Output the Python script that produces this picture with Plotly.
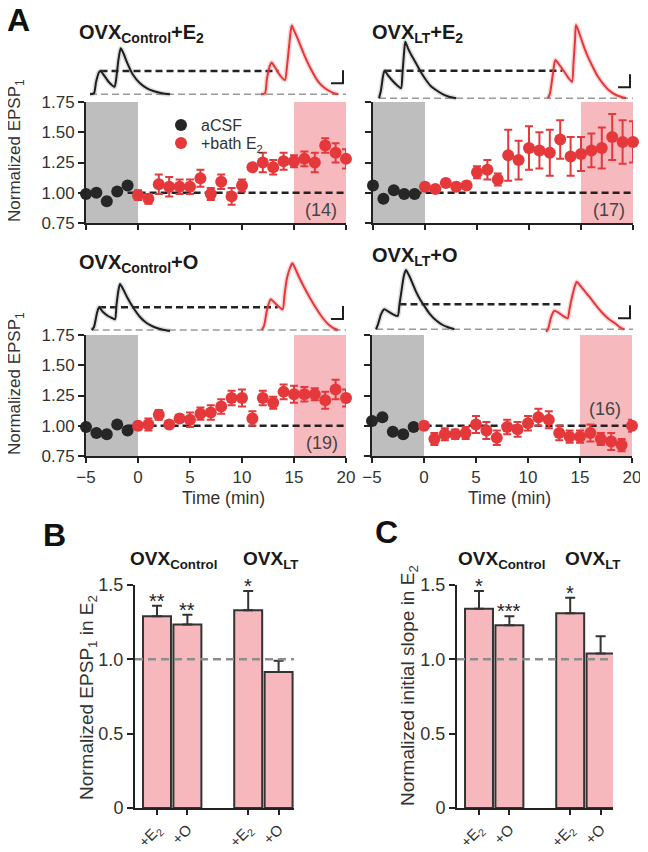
import plotly.graph_objects as go

# The page body keeps an 8px margin, so the figure is 16px smaller than the window
# and all positions below are given in window pixels, then shifted by that margin.
WIN_W, WIN_H = 648, 852
PAD = 8
W, H = WIN_W - 2 * PAD, WIN_H - 2 * PAD
FONT = "Liberation Sans, Arial, Helvetica, sans-serif"
TXT = "#333333"
AX = "#222222"
RED = "#e5383b"
BLACK = "#262626"
GRAY_BAND = "#bebebe"
PINK_BAND = "#f6b9be"
BAR_FILL = "#f7b8bd"

# ---------------- data: time courses (normalized EPSP1) ----------------
TIME_BASE = [-5, -4, -3, -2, -1]
TIME_E2 = [0, 1, 2, 3, 4, 5, 6, 7, 8, 9, 10, 11, 12, 13, 14, 15, 16, 17, 18, 19, 20]

ctrl_e2_base = [0.99, 1.00, 0.93, 1.01, 1.06]
ctrl_e2_base_err = [0.02, 0.02, 0.03, 0.03, 0.03]
ctrl_e2 = [0.98, 0.95, 1.07, 1.05, 1.05, 1.05, 1.12, 0.99, 1.09, 0.97, 1.06,
           1.21, 1.25, 1.21, 1.26, 1.26, 1.28, 1.25, 1.39, 1.33, 1.28]
ctrl_e2_err = [0.04, 0.04, 0.08, 0.08, 0.06, 0.06, 0.07, 0.05, 0.06, 0.07, 0.05,
               0.02, 0.08, 0.06, 0.07, 0.05, 0.06, 0.08, 0.06, 0.08, 0.08]

lt_e2_base = [1.06, 0.95, 1.02, 0.99, 0.99]
lt_e2_base_err = [0.03, 0.03, 0.02, 0.03, 0.03]
lt_e2 = [1.05, 1.03, 1.08, 1.05, 1.06, 1.17, 1.19, 1.11, 1.31, 1.27, 1.37,
         1.35, 1.33, 1.44, 1.30, 1.32, 1.35, 1.37, 1.46, 1.42, 1.42]
lt_e2_err = [0.03, 0.03, 0.03, 0.03, 0.03, 0.05, 0.08, 0.05, 0.21, 0.16, 0.18,
             0.15, 0.19, 0.16, 0.16, 0.14, 0.14, 0.17, 0.19, 0.18, 0.17]

ctrl_o_base = [0.99, 0.94, 0.93, 1.01, 0.96]
ctrl_o_base_err = [0.03, 0.02, 0.03, 0.02, 0.03]
ctrl_o = [1.00, 1.01, 1.09, 1.01, 1.06, 1.05, 1.10, 1.11, 1.16, 1.23, 1.23,
          1.06, 1.23, 1.19, 1.28, 1.26, 1.26, 1.26, 1.21, 1.30, 1.23]
ctrl_o_err = [0.03, 0.05, 0.04, 0.03, 0.03, 0.06, 0.05, 0.06, 0.06, 0.06, 0.07,
              0.06, 0.06, 0.05, 0.06, 0.07, 0.06, 0.05, 0.07, 0.08, 0.07]

lt_o_base = [1.04, 1.07, 0.95, 0.93, 0.99]
lt_o_base_err = [0.03, 0.03, 0.03, 0.03, 0.02]
lt_o = [1.00, 0.89, 0.93, 0.93, 0.94, 1.01, 0.96, 0.90, 0.99, 0.97, 1.02,
        1.07, 1.05, 0.94, 0.91, 0.91, 0.94, 0.89, 0.87, 0.84, 1.00]
lt_o_err = [0.03, 0.05, 0.05, 0.04, 0.05, 0.07, 0.07, 0.06, 0.06, 0.06, 0.06,
            0.07, 0.07, 0.06, 0.05, 0.05, 0.07, 0.05, 0.07, 0.05, 0.05]

N_CELLS = ["(14)", "(17)", "(19)", "(16)"]

# ---------------- data: example EPSP traces (ms, arbitrary units) ----------------
ctrl_e2_black_t = [4, 8, 10, 13, 14.5, 18, 23, 28.5, 30, 32.5, 34.7, 37, 41, 47, 54, 61, 68, 76, 84]
ctrl_e2_black_v = [0, 1, 12, 22, 23.3, 19, 12, 7.5, 14, 35, 46, 42, 32, 19.5, 11, 6, 3, 1, 0]
ctrl_e2_red_t = [175, 179, 181, 184, 185.5, 189, 194, 199, 201, 203.5, 205.7, 208, 212, 218, 225, 232, 239, 247, 252]
ctrl_e2_red_v = [0, 1, 16, 29, 31.7, 27, 19, 14.3, 28, 52, 68.7, 64, 55, 40, 25, 13, 6, 1.5, 0]

lt_e2_black_t = [6, 8, 10, 11.5, 15, 20, 24, 28, 29.5, 31, 32.3, 35, 39, 43, 48, 53, 58, 63, 70, 76, 83]
lt_e2_black_v = [0, 8, 22, 27.6, 23, 17, 13, 10, 25, 45, 56.6, 50, 42, 35, 26, 18.3, 12, 8.3, 4, 1.6, 0]
lt_e2_red_t = [175, 177, 180, 182.3, 186, 191, 195, 199, 200.5, 202, 203, 206, 209.7, 214.7, 219.7, 224.7, 229.7, 236, 243, 253]
lt_e2_red_v = [0, 5, 25, 38.3, 34, 27, 21, 16.6, 35, 58, 73.3, 66, 55, 42, 31.6, 22, 15, 8, 3.3, 0]

ctrl_o_black_t = [5.7, 8, 11, 13, 17, 22, 26, 29, 30.5, 32.5, 34, 37, 41, 47, 54, 61, 68, 76, 84]
ctrl_o_black_v = [0, 3, 17, 22.7, 18, 14, 12, 10.7, 25, 40, 46, 41, 33, 22.7, 13, 6.7, 3, 0.5, -1]
ctrl_o_red_t = [175.7, 178, 181, 184.7, 188, 192, 196.7, 198.5, 201, 204, 206.3, 209, 213, 218, 224, 230, 236, 242, 248, 252]
ctrl_o_red_v = [0, 4, 20, 30.7, 28, 24, 20.7, 35, 52, 62, 66.7, 62, 53, 43, 32, 22, 13, 6, 1.5, 0]

lt_o_black_t = [3, 5, 8, 11.3, 15, 20, 24.7, 26.5, 29, 31, 33, 36, 39.5, 43, 47, 51.5, 56.3, 63, 69.7, 75, 81.3]
lt_o_black_v = [0, 5, 15, 20, 18, 15, 13.3, 25, 42, 54, 59.3, 54, 46, 37.6, 30, 23, 16, 9, 4.3, 2, 0]
lt_o_red_t = [173, 175, 178, 181.3, 185, 190, 194.7, 196.5, 199, 201.5, 203.7, 207, 211.5, 216.3, 223, 229.7, 236, 243, 247, 251.3]
lt_o_red_v = [-2.4, 0, 12, 18.6, 17, 13.5, 11, 20, 32, 42, 47.6, 44, 38.5, 32.6, 24, 16, 10, 5.3, 2, 0]

SCALE_T = 12   # scale bar, ms
SCALE_V = 13   # scale bar, trace units

# ---------------- data: bar charts ----------------
BAR_POS = [0, 1, 3, 4]
BAR_LABELS = ["+E<sub>2</sub>", "+O", "+E<sub>2</sub>", "+O"]
epsp_mean = [1.29, 1.235, 1.33, 0.915]
epsp_sem = [0.07, 0.065, 0.13, 0.075]
epsp_stars = ["**", "**", "*", ""]
slope_mean = [1.34, 1.23, 1.31, 1.04]
slope_sem = [0.12, 0.06, 0.105, 0.115]
slope_stars = ["*", "***", "*", ""]


# ---------------- layout helpers ----------------
def fx(p):
    return (p - PAD) / W


def fy(p):
    return 1 - (p - PAD) / H


fig = go.Figure()
shapes = []
annotations = []
layout_axes = {}


def axname(i, kind):
    return kind if i == 1 else f"{kind}{i}"


def axkey(i, kind):
    return f"{kind}axis" if i == 1 else f"{kind}axis{i}"


def note(text, x, y, size, color=TXT, angle=0, xanchor="center", yanchor="middle", **kw):
    d = dict(text=text, xref="paper", yref="paper", x=fx(x), y=fy(y), showarrow=False,
             xanchor=xanchor, yanchor=yanchor, textangle=angle,
             font=dict(family=FONT, size=size, color=color))
    d.update(kw)
    annotations.append(d)


panels = [
    dict(i=1, xd=(86, 346), yd=(102, 223), xlab=False, ylab=True,
         base=ctrl_e2_base, base_err=ctrl_e2_base_err, y=ctrl_e2, err=ctrl_e2_err,
         title="<b>OVX<sub>Control</sub>+E<sub>2</sub></b>", title_pos=(77, 34),
         n=N_CELLS[0], n_pos=(17.6, 0.86), inset=8, ins_left=86, ins_base=94.3,
         bt=ctrl_e2_black_t, bv=ctrl_e2_black_v, rt=ctrl_e2_red_t, rv=ctrl_e2_red_v),
    dict(i=2, xd=(373, 633), yd=(102, 223), xlab=False, ylab=False,
         base=lt_e2_base, base_err=lt_e2_base_err, y=lt_e2, err=lt_e2_err,
         title="<b>OVX<sub>LT</sub>+E<sub>2</sub></b>", title_pos=(370, 34),
         n=N_CELLS[1], n_pos=(17.7, 0.86), inset=9, ins_left=373, ins_base=98.3,
         bt=lt_e2_black_t, bv=lt_e2_black_v, rt=lt_e2_red_t, rv=lt_e2_red_v),
    dict(i=3, xd=(86, 346), yd=(335, 456), xlab=True, ylab=True,
         base=ctrl_o_base, base_err=ctrl_o_base_err, y=ctrl_o, err=ctrl_o_err,
         title="<b>OVX<sub>Control</sub>+O</b>", title_pos=(77, 263),
         n=N_CELLS[2], n_pos=(17.7, 0.857), inset=10, ins_left=86, ins_base=330,
         bt=ctrl_o_black_t, bv=ctrl_o_black_v, rt=ctrl_o_red_t, rv=ctrl_o_red_v),
    dict(i=4, xd=(372, 632), yd=(335, 456), xlab=True, ylab=False,
         base=lt_o_base, base_err=lt_o_base_err, y=lt_o, err=lt_o_err,
         title="<b>OVX<sub>LT</sub>+O</b>", title_pos=(370, 256),
         n=N_CELLS[3], n_pos=(17.4, 1.14), inset=11, ins_left=373, ins_base=329.3,
         bt=lt_o_black_t, bv=lt_o_black_v, rt=lt_o_red_t, rv=lt_o_red_v),
]

tick_font = dict(family=FONT, size=17, color=TXT)

for p in panels:
    i = p["i"]
    xa = axname(i, "x")
    ya = axname(i, "y")
    layout_axes[axkey(i, "x")] = dict(
        domain=[fx(p["xd"][0]), fx(p["xd"][1])], range=[-5, 20], anchor=ya,
        tickvals=[-5, 0, 5, 10, 15, 20], ticks="outside", ticklen=5, tickwidth=2,
        tickcolor=AX, showline=True, linewidth=2, linecolor=AX, showgrid=False,
        zeroline=False, showticklabels=p["xlab"], tickfont=tick_font, automargin=False,
        ticklabeloverflow="allow")
    layout_axes[axkey(i, "y")] = dict(
        domain=[fy(p["yd"][1]), fy(p["yd"][0])], range=[0.75, 1.75], anchor=xa,
        tickvals=[0.75, 1.0, 1.25, 1.5, 1.75],
        ticktext=["0.75", "1.00", "1.25", "1.50", "1.75"],
        ticks="outside", ticklen=6, tickwidth=2, tickcolor=AX, showline=True,
        linewidth=2, linecolor=AX, showgrid=False, zeroline=False,
        showticklabels=p["ylab"], tickfont=tick_font, automargin=False)

    # shaded epochs
    shapes.append(dict(type="rect", xref=xa, yref=f"{ya} domain", x0=-5, x1=0, y0=0, y1=1,
                       fillcolor=GRAY_BAND, line_width=0, layer="below"))
    shapes.append(dict(type="rect", xref=xa, yref=f"{ya} domain", x0=15, x1=20, y0=0, y1=1,
                       fillcolor=PINK_BAND, line_width=0, layer="below"))
    # baseline reference
    shapes.append(dict(type="line", xref=xa, yref=ya, x0=TIME_BASE[-1], x1=TIME_E2[-1],
                       y0=1.0, y1=1.0, line=dict(color=AX, width=2.5, dash="7px,4px"),
                       layer="below"))

    fig.add_trace(go.Scatter(
        x=TIME_BASE, y=p["base"], mode="markers", xaxis=xa, yaxis=ya,
        name="aCSF", showlegend=(i == 1), legend="legend", cliponaxis=False,
        marker=dict(color=BLACK, size=12),
        error_y=dict(type="data", array=p["base_err"], color=BLACK, thickness=2, width=3)))
    fig.add_trace(go.Scatter(
        x=TIME_E2, y=p["y"], mode="markers", xaxis=xa, yaxis=ya,
        name="+bath E<sub>2</sub>", showlegend=(i == 1), legend="legend2", cliponaxis=False,
        marker=dict(color=RED, size=12),
        error_y=dict(type="data", array=p["err"], color=RED, thickness=2, width=4)))

    note(p["title"], p["title_pos"][0], p["title_pos"][1], 20, color="#1a1a1a", xanchor="left")
    annotations.append(dict(text=p["n"], xref=xa, yref=ya, x=p["n_pos"][0], y=p["n_pos"][1],
                            xanchor="center", yanchor="middle", showarrow=False,
                            font=dict(family=FONT, size=18, color="#444444")))

    # inset with example traces
    k = p["inset"]
    ixa = axname(k, "x")
    iya = axname(k, "y")
    L = p["ins_left"]
    B = p["ins_base"]
    layout_axes[axkey(k, "x")] = dict(domain=[fx(L), fx(L + 260)], range=[0, 260],
                                      visible=False, anchor=iya, automargin=False)
    layout_axes[axkey(k, "y")] = dict(domain=[fy(B + 6), fy(B - 80)], range=[-6, 80],
                                      visible=False, anchor=ixa, automargin=False)
    peak1 = max(p["bv"][:8])
    peak1_t = p["bt"][p["bv"].index(peak1)]
    red_peak1_t = p["rt"][p["rv"].index(max(p["rv"][:7]))]
    fig.add_trace(go.Scatter(x=[p["bt"][0], 262], y=[0, 0], mode="lines", xaxis=ixa, yaxis=iya,
                             showlegend=False, hoverinfo="skip",
                             line=dict(color="#9a9a9a", width=1.6, dash="7px,4px")))
    fig.add_trace(go.Scatter(x=[peak1_t, red_peak1_t + 7], y=[peak1, peak1], mode="lines",
                             xaxis=ixa, yaxis=iya, showlegend=False, hoverinfo="skip",
                             line=dict(color=AX, width=2.5, dash="7px,4px")))
    # faint SEM halo under each trace
    fig.add_trace(go.Scatter(x=p["bt"], y=p["bv"], mode="lines", xaxis=ixa, yaxis=iya,
                             showlegend=False, hoverinfo="skip",
                             line=dict(color="rgba(120,120,120,0.25)", width=5,
                                       shape="spline", smoothing=0.6)))
    fig.add_trace(go.Scatter(x=p["rt"], y=p["rv"], mode="lines", xaxis=ixa, yaxis=iya,
                             showlegend=False, hoverinfo="skip",
                             line=dict(color="rgba(229,56,59,0.2)", width=5,
                                       shape="spline", smoothing=0.6)))
    fig.add_trace(go.Scatter(x=p["bt"], y=p["bv"], mode="lines", xaxis=ixa, yaxis=iya,
                             showlegend=False, hoverinfo="skip",
                             line=dict(color="#1e1e1e", width=2, shape="spline", smoothing=0.6)))
    fig.add_trace(go.Scatter(x=p["rt"], y=p["rv"], mode="lines", xaxis=ixa, yaxis=iya,
                             showlegend=False, hoverinfo="skip",
                             line=dict(color=RED, width=2, shape="spline", smoothing=0.6)))
    corner_t, corner_v = 257, 11
    fig.add_trace(go.Scatter(x=[corner_t - SCALE_T, corner_t, corner_t],
                             y=[corner_v, corner_v, corner_v + SCALE_V], mode="lines",
                             xaxis=ixa, yaxis=iya, showlegend=False, hoverinfo="skip",
                             line=dict(color="#1e1e1e", width=2)))

# ---------------- bar charts ----------------
bar_panels = [
    dict(i=5, xd=(135, 294), means=epsp_mean, sems=epsp_sem, stars=epsp_stars,
         ylabel="Normalized EPSP<sub>1</sub> in E<sub>2</sub>", ylab_pos=(88, 698),
         groups=[(173, "<b>OVX<sub>Control</sub></b>"), (270, "<b>OVX<sub>LT</sub></b>")]),
    dict(i=6, xd=(457, 613), means=slope_mean, sems=slope_sem, stars=slope_stars,
         ylabel="Normalized initial slope in E<sub>2</sub>", ylab_pos=(409, 686),
         groups=[(502, "<b>OVX<sub>Control</sub></b>"), (592, "<b>OVX<sub>LT</sub></b>")]),
]
BAR_TOP, BAR_BOTTOM = 585, 808
for bp in bar_panels:
    i = bp["i"]
    xa = axname(i, "x")
    ya = axname(i, "y")
    x0, x1 = bp["xd"]
    unit = 30.4
    layout_axes[axkey(i, "x")] = dict(
        domain=[fx(x0), fx(x1)], range=[-(22 / unit), 4 + (x1 - x0 - 22 - 4 * unit) / unit],
        anchor=ya, tickvals=BAR_POS, ticktext=BAR_LABELS, tickangle=-45,
        ticks="outside", ticklen=5, tickwidth=2, tickcolor=AX, showline=True,
        linewidth=2, linecolor=AX, showgrid=False, zeroline=False,
        tickfont=dict(family=FONT, size=15, color=TXT), automargin=False,
        ticklabeloverflow="allow")
    layout_axes[axkey(i, "y")] = dict(
        domain=[fy(BAR_BOTTOM), fy(BAR_TOP)], range=[0, 1.5], anchor=xa,
        tickvals=[0, 0.5, 1.0, 1.5], ticktext=["0", "0.5", "1.0", "1.5"],
        ticks="outside", ticklen=6, tickwidth=2, tickcolor=AX, showline=True,
        linewidth=2, linecolor=AX, showgrid=False, zeroline=False,
        tickfont=dict(family=FONT, size=18, color=TXT), automargin=False)
    fig.add_trace(go.Bar(
        x=BAR_POS, y=bp["means"], width=0.92, xaxis=xa, yaxis=ya, showlegend=False,
        marker=dict(color=BAR_FILL, line=dict(color="#333333", width=2)),
        error_y=dict(type="data", array=bp["sems"], arrayminus=[0] * 4, symmetric=False,
                     color="#333333", thickness=2, width=5)))
    shapes.append(dict(type="line", xref=f"{xa} domain", yref=ya, x0=0, x1=1, y0=1.0, y1=1.0,
                       line=dict(color="#8d8d8d", width=2.5, dash="8px,5px"), layer="above"))
    for pos, m, s, st in zip(BAR_POS, bp["means"], bp["sems"], bp["stars"]):
        if st:
            annotations.append(dict(text=st, xref=xa, yref=ya, x=pos, y=m + s,
                                    xanchor="center", yanchor="bottom", yshift=-8,
                                    showarrow=False,
                                    font=dict(family=FONT, size=20, color="#222222")))
    note(bp["ylabel"], bp["ylab_pos"][0], bp["ylab_pos"][1], 19, angle=-90)
    for gx, gt in bp["groups"]:
        note(gt, gx, 560, 19, color="#1a1a1a")

# ---------------- other text ----------------
note("Normalized EPSP<sub>1</sub>", 16, 151, 17, angle=-90)
note("Normalized EPSP<sub>1</sub>", 16, 384, 17, angle=-90)
note("Time (min)", 223, 498, 17.5)
note("Time (min)", 509, 498, 17.5)
note("<b>A</b>", 18, 20, 32, color="#111111")
note("<b>B</b>", 55, 535, 32, color="#111111")
note("<b>C</b>", 386, 532, 32, color="#111111")

legend_common = dict(xanchor="left", yanchor="middle", bgcolor="rgba(0,0,0,0)",
                     font=dict(family=FONT, size=16, color=TXT), itemwidth=30)

fig.update_layout(
    width=W, height=H, margin=dict(l=0, r=0, t=0, b=0, autoexpand=False),
    paper_bgcolor="white", plot_bgcolor="rgba(0,0,0,0)",
    font=dict(family=FONT, color=TXT),
    shapes=shapes, annotations=annotations,
    legend=dict(x=fx(161), y=fy(125), **legend_common),
    legend2=dict(x=fx(161), y=fy(143), **legend_common),
    **layout_axes,
)

fig.write_html("out.html", config={"displayModeBar": False})
